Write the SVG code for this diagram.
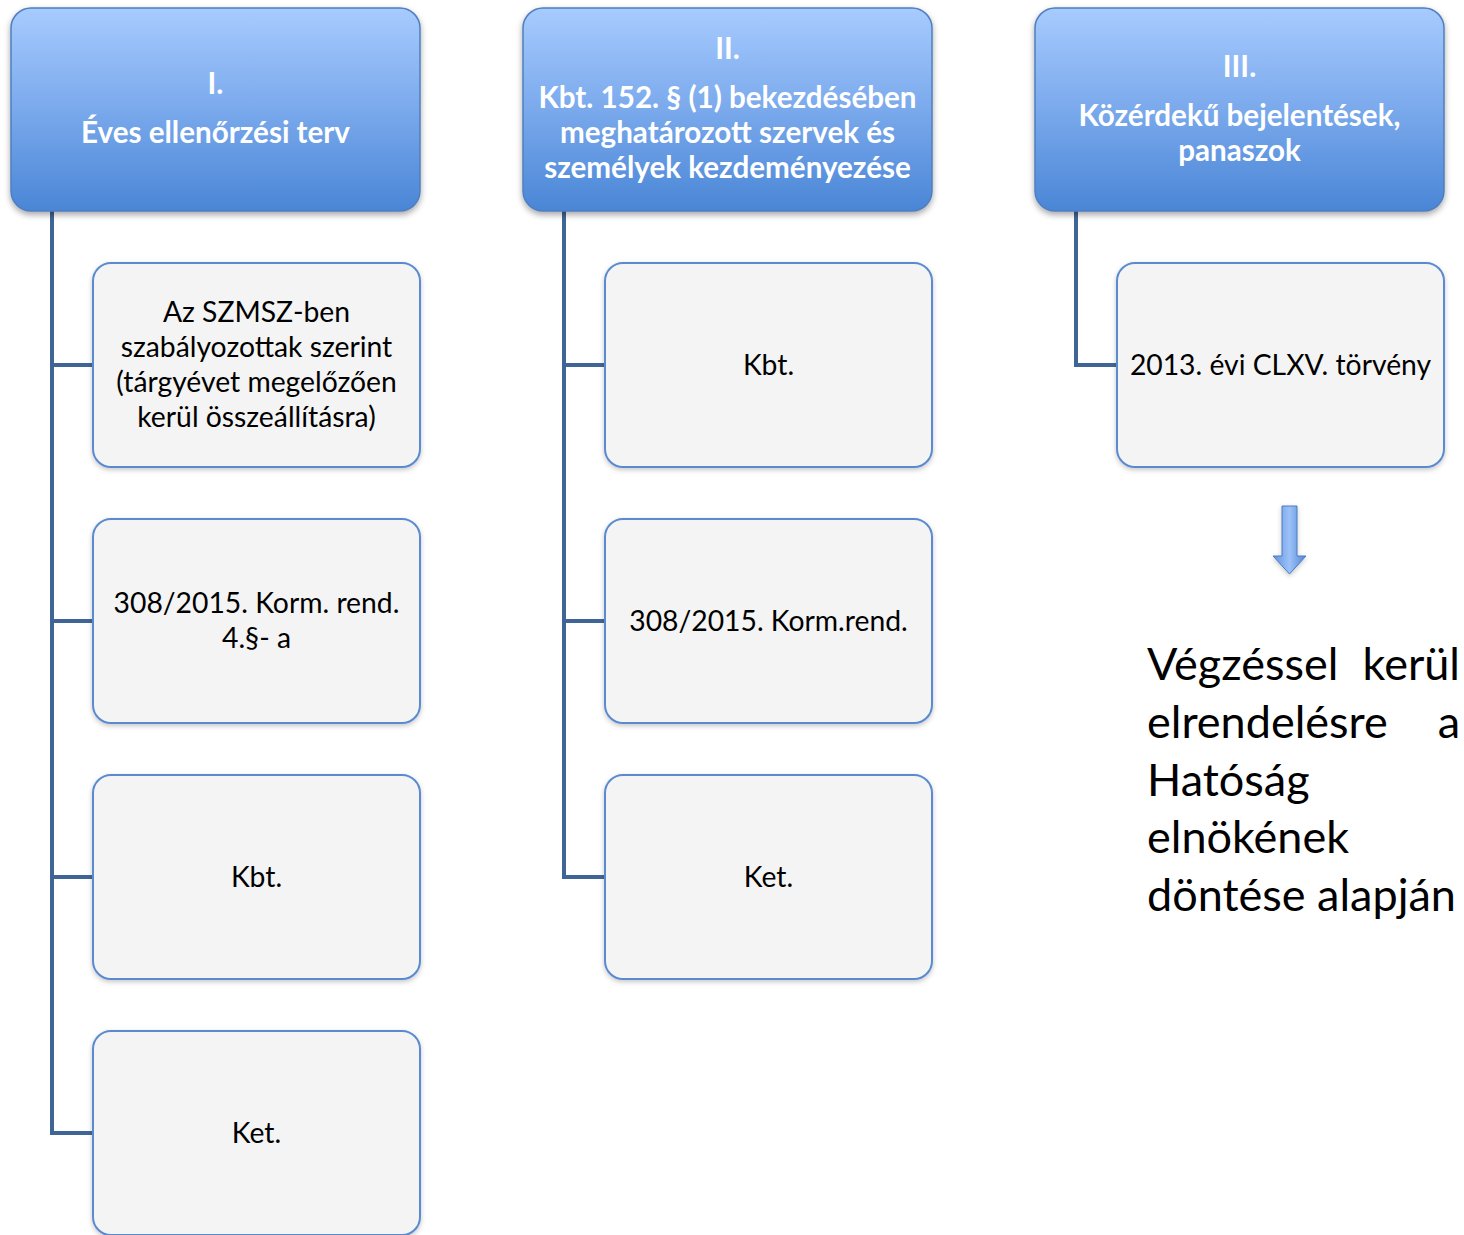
<svg xmlns="http://www.w3.org/2000/svg" width="1464" height="1235" viewBox="0 0 1464 1235">
<defs>
<linearGradient id="hg" x1="0" y1="0" x2="0" y2="1">
<stop offset="0" stop-color="#a7cbfe"/>
<stop offset="0.5" stop-color="#7aa9ec"/>
<stop offset="1" stop-color="#4a86d6"/>
</linearGradient>
<linearGradient id="ag" x1="0" y1="0" x2="1" y2="0">
<stop offset="0" stop-color="#5f93df"/>
<stop offset="0.5" stop-color="#9cc1f8"/>
<stop offset="1" stop-color="#4f86d4"/>
</linearGradient>
<filter id="sh" x="-10%" y="-10%" width="120%" height="125%">
<feDropShadow dx="0" dy="3" stdDeviation="3" flood-color="#000" flood-opacity="0.35"/>
</filter>
<filter id="sh2" x="-10%" y="-10%" width="120%" height="125%">
<feDropShadow dx="0" dy="2" stdDeviation="2.5" flood-color="#000" flood-opacity="0.22"/>
</filter>
</defs>
<style>
.hdr{fill:url(#hg);stroke:#4f7fbf;stroke-width:1.5;filter:url(#sh)}
.box{fill:#f4f4f4;stroke:#5b8ad0;stroke-width:2;filter:url(#sh2)}
.ht{font-family:Lato,"Open Sans",sans-serif;font-weight:bold;font-size:29.6px;fill:#ffffff;text-anchor:middle}
.bt{font-family:Lato,"Open Sans",sans-serif;font-size:28.3px;fill:#000;text-anchor:middle}
.big{font-family:Lato,"Open Sans",sans-serif;font-size:45px;fill:#000}
.con{stroke:#3f6597;stroke-width:4;fill:none}
</style>
<rect width="1464" height="1235" fill="#ffffff"/>
<g id="connectors">
<path class="con" d="M52 211 V1133 H93 M52 365 H93 M52 621 H93 M52 877 H93"/>
<path class="con" d="M564 211 V877 H605 M564 365 H605 M564 621 H605"/>
<path class="con" d="M1076 211 V365 H1117"/>
</g>
<g id="h1">
<rect class="hdr" x="11" y="8" width="409" height="203" rx="20"/>
<text class="ht" x="215.5" y="94">I.</text>
<text class="ht" x="215.5" y="143">Éves ellenőrzési terv</text>
</g>
<g id="h2">
<rect class="hdr" x="523" y="8" width="409" height="203" rx="20"/>
<text class="ht" x="727.5" y="59">II.</text>
<text class="ht" x="727.5" y="108">Kbt. 152. § (1) bekezdésében</text>
<text class="ht" x="727.5" y="143">meghatározott szervek és</text>
<text class="ht" x="727.5" y="178">személyek kezdeményezése</text>
</g>
<g id="h3">
<rect class="hdr" x="1035" y="8" width="409" height="203" rx="20"/>
<text class="ht" x="1239.5" y="77">III.</text>
<text class="ht" x="1239.5" y="126">Közérdekű bejelentések,</text>
<text class="ht" x="1239.5" y="161">panaszok</text>
</g>
<g id="n1">
<rect class="box" x="93" y="263" width="327" height="204" rx="18"/>
<text class="bt" x="256.5" y="322">Az SZMSZ-ben</text>
<text class="bt" x="256.5" y="357">szabályozottak szerint</text>
<text class="bt" x="256.5" y="392">(tárgyévet megelőzően</text>
<text class="bt" x="256.5" y="427">kerül összeállításra)</text>
</g>
<g id="n2">
<rect class="box" x="93" y="519" width="327" height="204" rx="18"/>
<text class="bt" x="256.5" y="613">308/2015. Korm. rend.</text>
<text class="bt" x="256.5" y="648">4.§- a</text>
</g>
<g id="n3">
<rect class="box" x="93" y="775" width="327" height="204" rx="18"/>
<text class="bt" x="256.5" y="887">Kbt.</text>
</g>
<g id="n4">
<rect class="box" x="93" y="1031" width="327" height="204" rx="18"/>
<text class="bt" x="256.5" y="1143">Ket.</text>
</g>
<g id="n5">
<rect class="box" x="605" y="263" width="327" height="204" rx="18"/>
<text class="bt" x="768.5" y="375">Kbt.</text>
</g>
<g id="n6">
<rect class="box" x="605" y="519" width="327" height="204" rx="18"/>
<text class="bt" x="768.5" y="631">308/2015. Korm.rend.</text>
</g>
<g id="n7">
<rect class="box" x="605" y="775" width="327" height="204" rx="18"/>
<text class="bt" x="768.5" y="887">Ket.</text>
</g>
<g id="n8">
<rect class="box" x="1117" y="263" width="327" height="204" rx="18"/>
<text class="bt" x="1280.5" y="375">2013. évi CLXV. törvény</text>
</g>
<g id="arrow">
<path d="M1282 506 H1297 V556 H1306 L1289.5 574 L1273 556 H1282 Z" fill="url(#ag)" stroke="#4a7cc0" stroke-width="1" filter="url(#sh2)"/>
</g>
<g id="note">
<text class="big" x="1147" y="680">Végzéssel</text>
<text class="big" x="1460" y="680" text-anchor="end">kerül</text>
<text class="big" x="1147" y="738">elrendelésre</text>
<text class="big" x="1460" y="738" text-anchor="end">a</text>
<text class="big" x="1147" y="796">Hatóság</text>
<text class="big" x="1147" y="853">elnökének</text>
<text class="big" x="1147" y="911">döntése alapján</text>
</g>
</svg>
